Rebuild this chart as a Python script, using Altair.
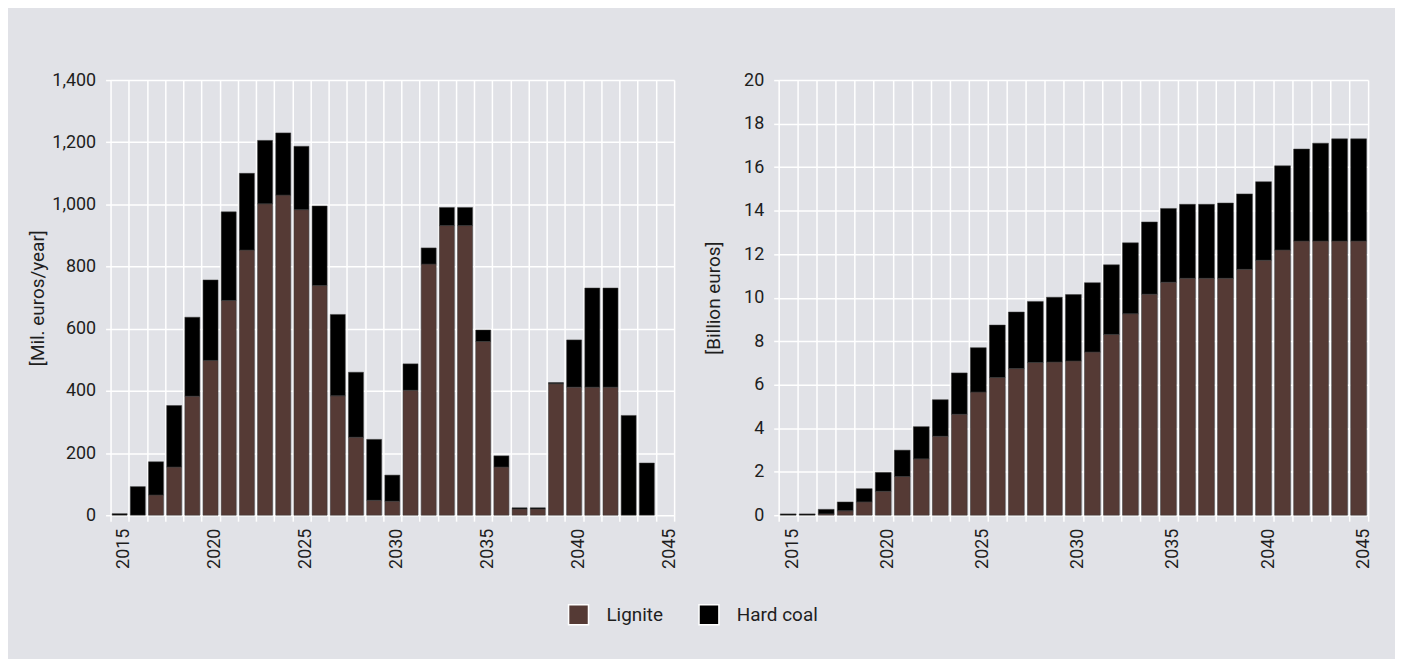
import altair as alt
import pandas as pd

years = list(range(2015, 2046))

# Left panel: annual costs [Mil. euros/year]
annual_lignite = [0, 0, 65, 155, 383, 498, 691, 853, 1002, 1030, 983, 739, 384, 251, 48, 45,
                  402, 808, 932, 932, 559, 155, 20, 20, 423, 412, 412, 412, 0, 0, 0]
annual_hardcoal = [5, 92, 107, 198, 254, 259, 285, 247, 204, 200, 204, 256, 262, 209, 196, 84,
                   85, 52, 58, 58, 37, 36, 4, 4, 4, 152, 319, 319, 321, 168, 0]

# Right panel: cumulative costs [Billion euros]
cum_lignite = [0, 0, 0.06, 0.20, 0.61, 1.10, 1.78, 2.59, 3.63, 4.64, 5.66, 6.33, 6.74, 7.02, 7.04, 7.09,
               7.50, 8.31, 9.26, 10.16, 10.71, 10.89, 10.89, 10.89, 11.30, 11.72, 12.19, 12.60, 12.60, 12.60, 12.60]
cum_hardcoal = [0.06, 0.06, 0.21, 0.41, 0.61, 0.87, 1.21, 1.48, 1.68, 1.90, 2.04, 2.41, 2.60, 2.80, 2.98, 3.05,
                3.19, 3.20, 3.26, 3.32, 3.39, 3.40, 3.40, 3.46, 3.47, 3.61, 3.87, 4.23, 4.50, 4.70, 4.70]

series = ["Lignite", "Hard coal"]
colors = ["#553a35", "#000000"]

left_ticks = list(range(0, 1401, 200))
right_ticks = list(range(0, 21, 2))
x_ticks = list(range(2014, 2046))

FONT = "Roboto"
BG = "#e1e2e7"
TXT = "#1e1e1e"

df_left = pd.DataFrame({"year": years, "Lignite": annual_lignite, "Hard coal": annual_hardcoal})
df_right = pd.DataFrame({"year": years, "Lignite": cum_lignite, "Hard coal": cum_hardcoal})

color_scale = alt.Scale(domain=series, range=colors)


def panel(df, ymax, yticks, ytitle, yfmt, width, title_pad):
    x_axis = alt.Axis(
        values=x_ticks,
        labelExpr="datum.value % 5 === 0 ? toString(datum.value) : ''",
        labelAngle=-90,
        labelAlign="right",
        labelBaseline="alphabetic",
        labelPadding=7,
        tickSize=6,
        title=None,
        grid=True,
    )
    y_axis = alt.Axis(
        values=yticks,
        format=yfmt,
        title=ytitle,
        titlePadding=title_pad,
        tickSize=5,
        labelPadding=10,
        grid=True,
    )
    return (
        alt.Chart(df)
        .transform_fold(series, as_=["kind", "value"])
        .transform_calculate(start="datum.year - 1", ord="datum.kind === 'Lignite' ? 0 : 1")
        .transform_stack(stack="value", groupby=["year"], as_=["y0", "y1"],
                         sort=[alt.SortField("ord", order="ascending")])
        .transform_filter("datum.value > 0")
        .mark_bar(xOffset=1.6, x2Offset=-1.6, stroke="#3c3c3c", strokeWidth=0.5)
        .encode(
            x=alt.X("start:Q", scale=alt.Scale(domain=[2014, 2045], nice=False, zero=False), axis=x_axis),
            x2="year:Q",
            y=alt.Y("y0:Q", scale=alt.Scale(domain=[0, ymax], nice=False), axis=y_axis),
            y2="y1:Q",
            color=alt.Color(
                "kind:N",
                scale=color_scale,
                legend=alt.Legend(
                    title=None,
                    orient="none",
                    direction="horizontal",
                    legendX=459,
                    legendY=526,
                    symbolType="square",
                    symbolSize=400,
                    symbolStrokeColor="white",
                    symbolStrokeWidth=1.5,
                    symbolOpacity=1,
                    labelFontSize=19,
                    labelOffset=17,
                    columnPadding=33,
                    labelColor=TXT,
                    labelFont=FONT,
                ),
            ),
        )
        .properties(width=width, height=437)
    )


left = panel(df_left, 1400, left_ticks, "[Mil. euros/year]", ",d", 566, 4)
right = panel(df_right, 20, right_ticks, "[Billion euros]", "d", 592, 20)

chart = (
    alt.hconcat(left, right, spacing=26)
    .properties(padding={"left": 20, "top": 62, "right": 23, "bottom": 30}, background=BG)
    .configure_view(stroke=None, fill=BG)
    .configure_axis(
        gridColor="white",
        gridWidth=1.5,
        tickColor="white",
        tickWidth=1.5,
        domain=False,
        labelFont=FONT,
        labelFontSize=18,
        labelColor=TXT,
        titleFont=FONT,
        titleFontSize=19,
        titleFontWeight="normal",
        titleColor=TXT,
    )
)

chart.save("out.html", embed_options={"renderer": "svg", "actions": False})
